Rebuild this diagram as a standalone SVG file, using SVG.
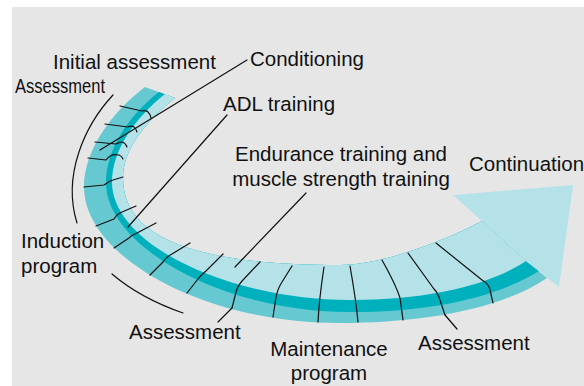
<svg xmlns="http://www.w3.org/2000/svg" width="584" height="386" viewBox="0 0 584 386">
  <style>
    .lbl { font-family: "Liberation Sans", Arial, sans-serif; font-size: 20.5px; fill: #111; }
    .ink { fill: none; stroke: #111; stroke-width: 1.2; stroke-linecap: round; stroke-linejoin: round; }
    .mid { fill: #66c8d1; }
    .deep { fill: #00b0bc; }
    .pale { fill: #b4e2e8; }
  </style>

  <rect x="0" y="0" width="584" height="386" fill="#ffffff"/>
  <rect x="12" y="7" width="572" height="379" fill="#e6e6e6"/>

  <!-- curved programme band: outer, middle stripe, inner layer -->
  <g id="band">
    <path class="mid" d="M145,87 C112,112 84,150 84,187 C84,255 200,323 340,323 C420,323 500,310 547,278 L526,261 L482,221 C440,243 380,265 340,265 C200,265 123,240 123,178 C123,150 145,122 175,98 Z"/>
    <path class="deep" d="M159,92 C128,116 106,150 106,183 C106,245 220,312 350,312 C430,312 495,298 539,271 L526,261 L482,221 C440,243 380,265 340,265 C200,265 123,240 123,178 C123,150 145,122 175,98 Z"/>
    <path class="pale" d="M165,94 C135,118 112,150 112,182 C112,245 230,300 350,300 C430,300 490,285 526,261 L482,221 C440,243 380,265 340,265 C200,265 123,240 123,178 C123,150 145,122 175,98 Z"/>
  </g>

  <g id="arrow-head">
    <polygon class="pale" points="482,221 453,195 573,185 559,287 526,261"/>
  </g>

  <!-- segment marks across the band -->
  <g id="ticks" class="ink">
    <path d="M120,106 L142,111 Q149,109 151,118"/>
    <path d="M105,124 L128,127 Q135,124 137,132"/>
    <path d="M95,142 L116,144 Q124,139 127,147"/>
    <path d="M88,158 L106,160 Q111,153 119,155 Q122,156 123,159"/>
    <path d="M84,187 L104,185 C107,183 109,181 113,180 L123,177"/>
    <path d="M96,226 L114,219 Q117,214 122,212 L136,206"/>
    <path d="M114,248 L129,238 Q132,235 137,233 L156,223"/>
    <path d="M150,275 L163,262 Q166,257 172,254 L190,243"/>
    <path d="M187,293 L198,279 Q201,275 206,271 L223,254"/>
    <path d="M232,308 L236,292 Q238,285 243,280 L260,262"/>
    <path d="M273,317 L276,297 Q278,288 282,282 L292,266"/>
    <path d="M318,322 Q319,300 324,267"/>
    <path d="M358,322 Q356,300 350,266"/>
    <path d="M403,320 L400,298 Q396,285 382,260"/>
    <path d="M408,253 L434,289 Q438,293 440,300 L445,315"/>
    <path d="M436,243 L482,280 Q489,284 490,290 L493,303"/>
  </g>

  <!-- leader lines and phase brackets -->
  <g id="leaders" class="ink">
    <path d="M100,150 L247,60"/>
    <path d="M128,227 L227,115"/>
    <path d="M235,267 L306,193"/>
    <path d="M218,322 L232,308"/>
    <path d="M457,329 L445,315"/>
    <path d="M113,95 C85,125 62,175 77,223"/>
    <path d="M112,274 Q140,298 183,313"/>
  </g>

  <g id="labels">
    <text class="lbl" x="53" y="69">Initial assessment</text>
    <text class="lbl" x="15" y="93" font-size="18.5" textLength="90" lengthAdjust="spacingAndGlyphs">Assessment</text>
    <text class="lbl" x="250" y="66">Conditioning</text>
    <text class="lbl" x="223" y="111">ADL training</text>
    <text class="lbl" x="341" y="161" text-anchor="middle">Endurance training and</text>
    <text class="lbl" x="341" y="186" text-anchor="middle">muscle strength training</text>
    <text class="lbl" x="469" y="171">Continuation</text>
    <text class="lbl" x="21" y="248" font-size="19.5">Induction</text>
    <text class="lbl" x="21" y="273" font-size="19.5">program</text>
    <text class="lbl" x="129" y="339">Assessment</text>
    <text class="lbl" x="329" y="356" text-anchor="middle">Maintenance</text>
    <text class="lbl" x="329" y="380" text-anchor="middle">program</text>
    <text class="lbl" x="418" y="350">Assessment</text>
  </g>
</svg>
